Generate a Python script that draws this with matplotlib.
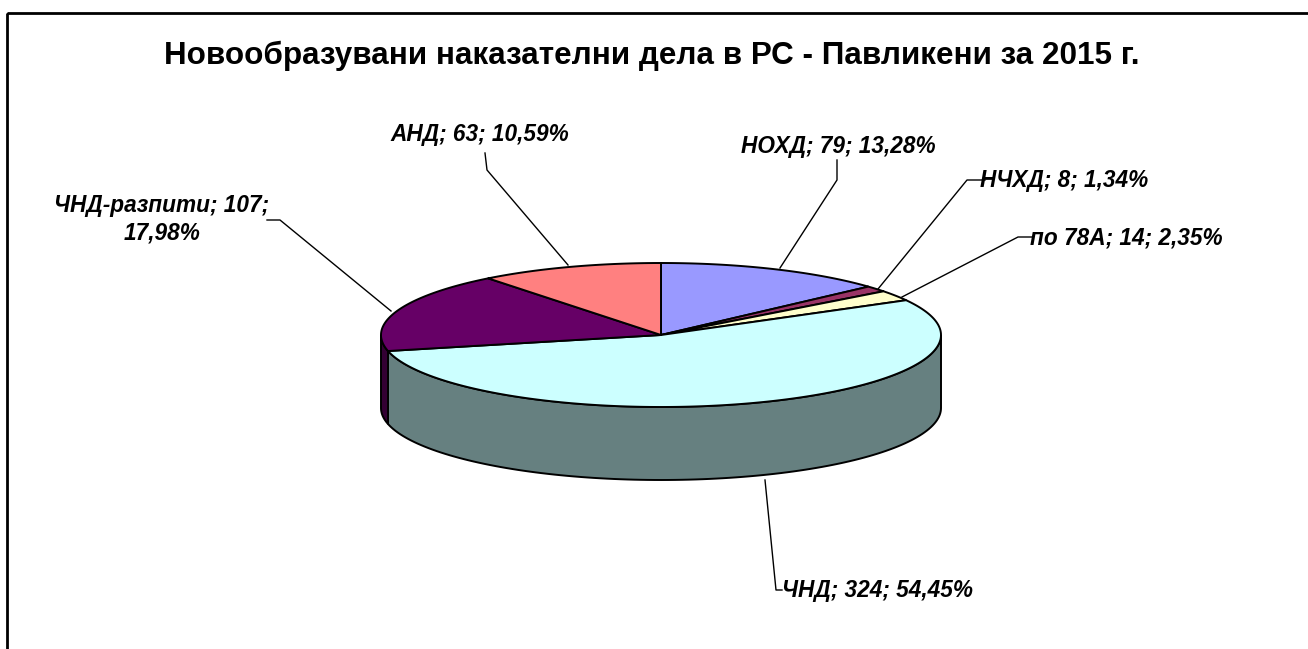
import numpy as np
import matplotlib
matplotlib.use("Agg")
import matplotlib.pyplot as plt
from matplotlib.patches import Polygon, Rectangle

# data
categories = ["НОХД", "НЧХД", "по 78А", "ЧНД", "ЧНД-разпити", "АНД"]
values = [79, 8, 14, 324, 107, 63]
percents = ["13,28%", "1,34%", "2,35%", "54,45%", "17,98%", "10,59%"]
top_colors = ["#9999FF", "#993366", "#FFFFCC", "#CCFFFF", "#660066", "#FF8080"]
side_colors = ["#4D4D80", "#4D1A33", "#808066", "#668080", "#330033", "#804040"]

title = "Новообразувани наказателни дела в РС - Павликени за 2015 г."

# label placement (pixel space), leader line ends
label_pos = [(838, 146), (1064, 181), (1126, 238), (877, 590), (162, 219), (480, 135)]
leader = [
    [(837, 160), (837, 180), (780, 268)],
    [(985, 180), (967, 180), (878, 289)],
    [(1032, 237), (1018, 237), (902, 297)],
    [(782, 590), (776, 590), (765, 480)],
    [(267, 220), (280, 220), (391, 311)],
    [(485, 153), (487, 170), (568, 265)],
]

W, H = 1308, 649
fig = plt.figure(figsize=(W / 100, H / 100), dpi=100)
ax = fig.add_axes([0, 0, 1, 1])
ax.set_xlim(0, W)
ax.set_ylim(H, 0)
ax.axis("off")

font = dict(family="Liberation Sans", weight="bold")

# frame
ax.add_patch(Rectangle((7, 13), W + 20, H + 20, fill=False, lw=2, ec="black"))

ax.text(652, 56, title, ha="center", va="center", fontsize=22.6, **font)

# pie geometry
cx, cy, rx, ry, depth = 661, 335, 280, 72, 73
total = sum(values)
bounds = np.concatenate([[0], np.cumsum(values)]) / total * 360.0


def pt(theta, dy=0.0):
    t = np.radians(theta)
    return cx + rx * np.sin(t), cy - ry * np.cos(t) + dy


# side walls (front half only: 90..270 deg clockwise from top)
for i in range(len(values)):
    a, b = max(bounds[i], 90), min(bounds[i + 1], 270)
    if b <= a:
        continue
    th = np.linspace(a, b, 120)
    top = [pt(t) for t in th]
    bot = [pt(t, depth) for t in th[::-1]]
    ax.add_patch(Polygon(top + bot, closed=True, fc=side_colors[i], ec="black", lw=1.4))

# top faces
for i in range(len(values)):
    th = np.linspace(bounds[i], bounds[i + 1], 200)
    verts = [(cx, cy)] + [pt(t) for t in th]
    ax.add_patch(Polygon(verts, closed=True, fc=top_colors[i], ec="black", lw=1.4, joinstyle="round"))

# labels
for i, name in enumerate(categories):
    txt = f"{name}; {values[i]}; {percents[i]}"
    if name == "ЧНД-разпити":
        txt = f"{name}; {values[i]};\n{percents[i]}"
    x, y = label_pos[i]
    ax.text(x, y, txt, ha="center", va="center", fontsize=16.3, style="italic",
            linespacing=1.23, **font)
    xs, ys = zip(*leader[i])
    ax.plot(xs, ys, color="black", lw=1.0)

fig.savefig("out.png", dpi=100)
